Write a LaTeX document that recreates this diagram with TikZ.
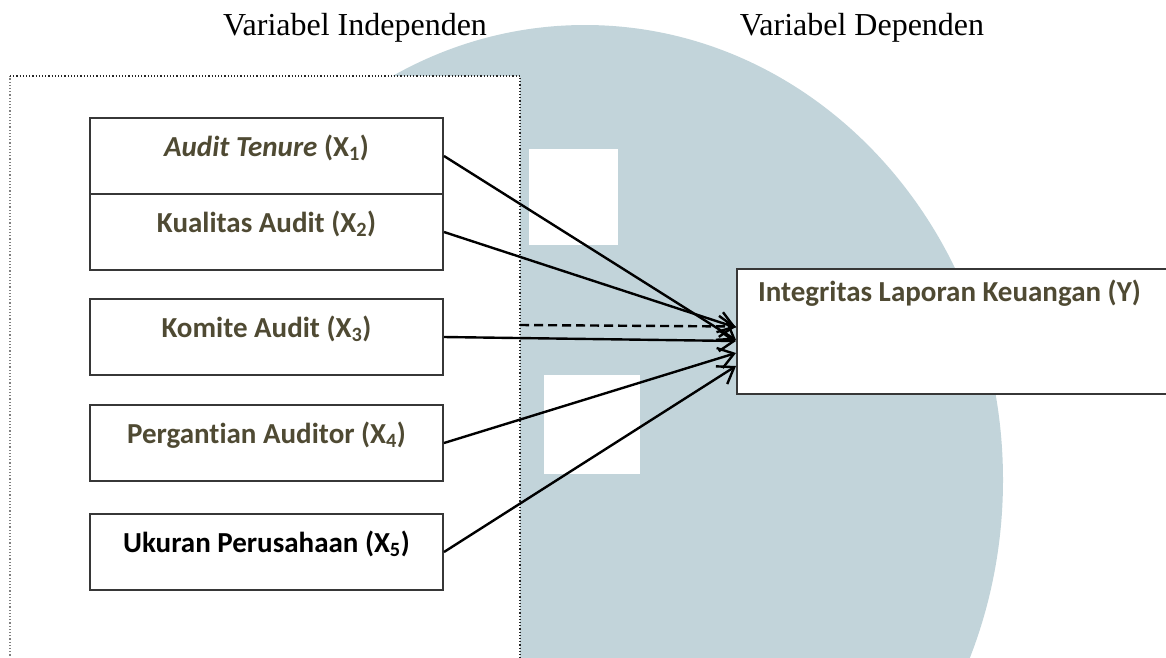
\documentclass[tikz,border=0pt]{standalone}
\usepackage{fontspec}
\setmainfont{Liberation Serif}
\newfontfamily\boxfont[Ligatures=NoCommon]{Carlito}
\usetikzlibrary{arrows.meta}
\definecolor{olivetext}{RGB}{79,74,51}
\definecolor{emblem}{RGB}{194,212,218}
\definecolor{boxline}{RGB}{55,55,55}
\tikzstyle{varbox} = [draw=boxline, line width=2pt, fill=white, minimum width=353pt, inner xsep=0pt,
inner ysep=0pt, text height=38pt, text depth=38pt, anchor=north west, text=olivetext,
font=\boxfont\bfseries\fontsize{29}{32}\selectfont]
\tikzstyle{arrow} = [line width=2.4pt,-{Straight Barb[length=15pt,width=21pt]}]

\begin{document}
\begin{tikzpicture}[x=1pt,y=-1pt]
                        \useasboundingbox (0,0) rectangle (1166,657);
                        \clip (0,0) rectangle (1166,657);
                        % emblem behind the diagram
                        \fill[emblem] (585,480) ellipse [x radius=418, y radius=455];
                        \fill[white] (529,149) rectangle (618,245);
                        \fill[white] (544,375) rectangle (640,474);
                        % frame round the independent variables
                        \fill[white] (10,76) rectangle (520,662);
                        \draw[gray, dotted, line width=1.2pt] (10,662) -- (10,76);
                        \draw[black!85, dotted, line width=1.2pt] (10,76) -- (520,76) -- (520,662);
                        \coordinate (fr) at (520,325);
                        \node[font=\fontsize{32}{35}\selectfont, anchor=base] (indep) at (355,35) {Variabel Independen};
                        \node[font=\fontsize{32}{35}\selectfont, anchor=base] (dep) at (862,35) {Variabel Dependen};
                        \node[varbox] (x1) at (89,117) {\textit{Audit Tenure} (X\textsubscript{1})};
                        \node[varbox] (x2) at (89,193) {Kualitas Audit (X\textsubscript{2})};
                        \node[varbox] (x3) at (89,298) {Komite Audit (X\textsubscript{3})};
                        \node[varbox] (x4) at (89,404) {Pergantian Auditor (X\textsubscript{4})};
                        \node[varbox, text=black] (x5) at (89,513) {Ukuran Perusahaan (X\textsubscript{5})};
                        \node[draw=boxline, line width=2pt, fill=white, anchor=north west,
                            inner xsep=21pt, inner ysep=0pt, text height=32pt, text depth=93pt,
                            text=olivetext, font=\boxfont\bfseries\fontsize{29}{32}\selectfont]
                            (y) at (736,268) {\makebox[560pt][l]{Integritas Laporan Keuangan (Y)}};
                        \draw[arrow] (x1.east) -- ([yshift=-8.5pt]y.west);
                        \draw[arrow] (x2.east) -- ([yshift=4pt]y.west);
                        \draw[arrow, dash pattern=on 9pt off 5pt] (fr) -- ([yshift=5pt]y.west);
                        \draw[arrow] (x3.east) -- ([yshift=-9.5pt]y.west);
                        \draw[arrow] (x4.east) -- ([yshift=-21.5pt]y.west);
                        \draw[arrow] (x5.east) -- ([yshift=-34.5pt]y.west);
                    \end{tikzpicture}
\end{document}
